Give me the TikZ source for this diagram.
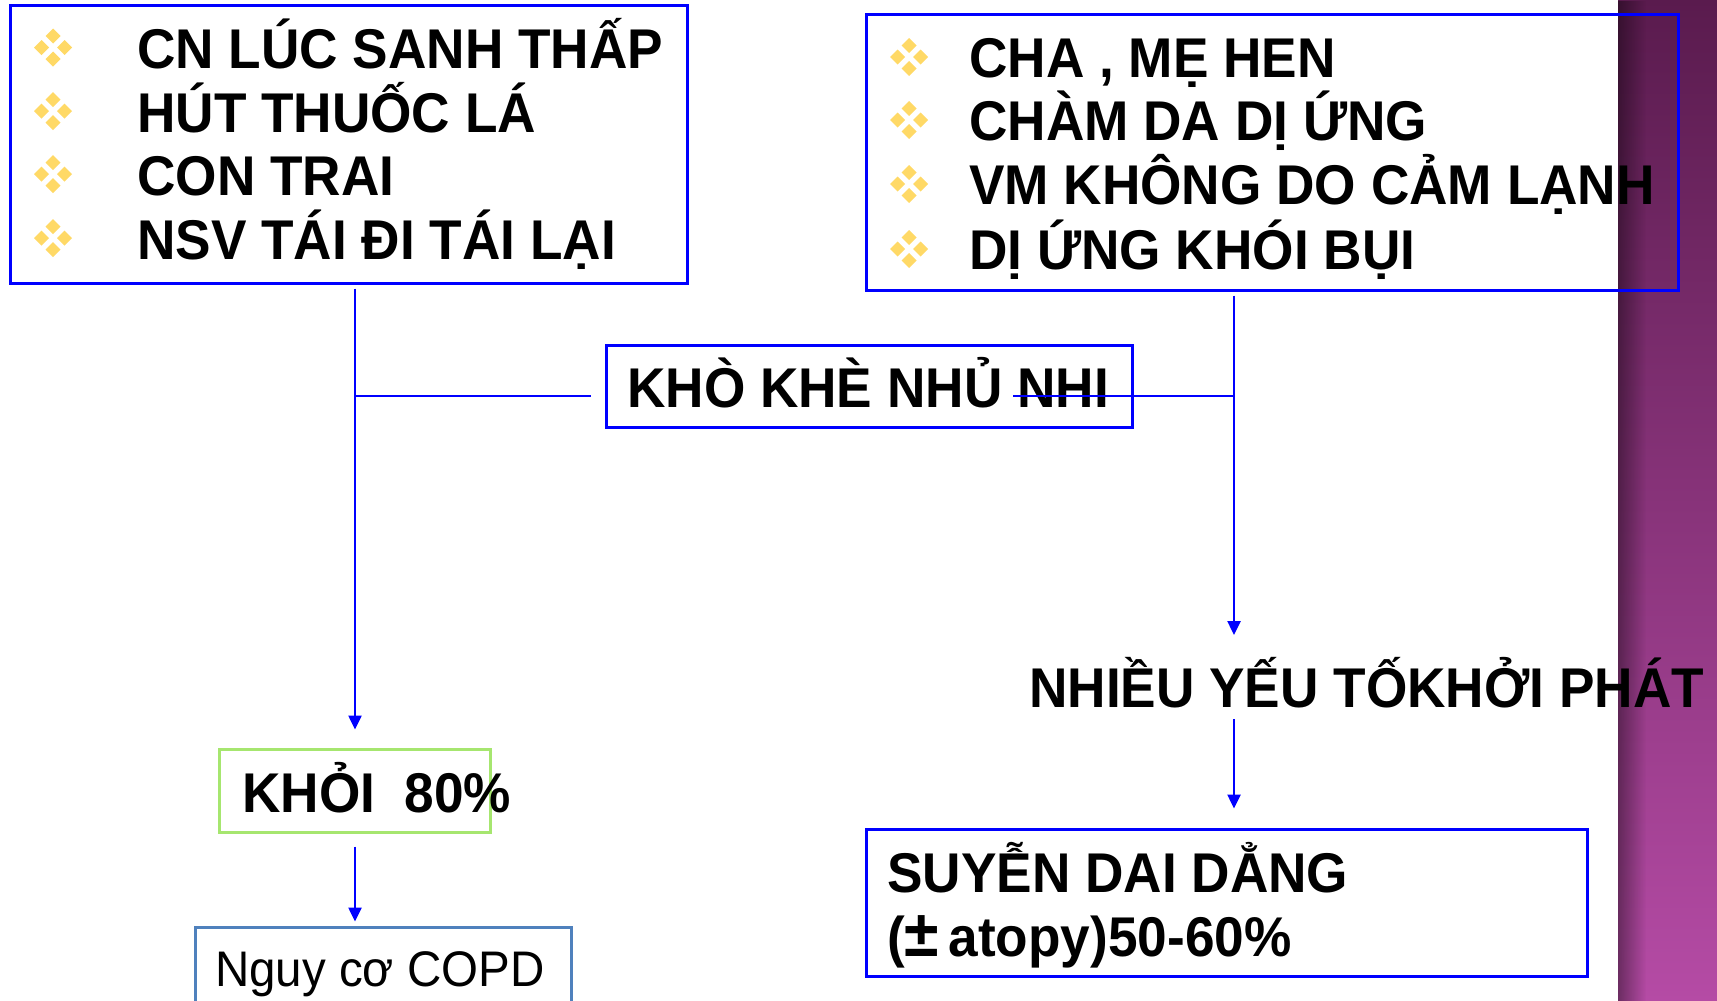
\documentclass[tikz,border=0pt]{standalone}
\usepackage{fontspec}
\setmainfont{Liberation Sans}
\newfontfamily\hfont[FakeStretch=0.95]{Liberation Sans}
\usetikzlibrary{arrows.meta,fadings}
\definecolor{lineblue}{HTML}{0000FF}
\definecolor{gemyellow}{HTML}{FFD966}
\definecolor{khoigreen}{HTML}{A6E66F}
\definecolor{copdblue}{HTML}{4F81BD}
\definecolor{bandtop}{HTML}{5A1B4E}
\definecolor{bandbot}{HTML}{B54BA5}
\tikzfading[name=fadeR, left color=transparent!0, right color=transparent!100]
\tikzset{
  bluebox/.style={draw=lineblue, line width=3pt, inner sep=0pt},
  big/.style={font=\hfont\bfseries\fontsize{56}{60}\selectfont, inner sep=0pt, anchor=base west},
  small/.style={font=\hfont\fontsize{50}{54}\selectfont, inner sep=0pt, anchor=base west},
  conn/.style={draw=lineblue, line width=2.5pt},
  arr/.style={conn, -{Triangle[length=14pt,width=13pt]}},
  gem/.pic={
    \foreach \dx/\dy in {0/-11.5,-11.5/0,11.5/0,0/11.5}
      \fill[gemyellow] (\dx,\dy) +(0,-7.5) -- +(7.5,0) -- +(0,7.5) -- +(-7.5,0) -- cycle;
  }
}
\begin{document}
\begin{tikzpicture}[x=1pt,y=-1pt]
\useasboundingbox (0,0) rectangle (1717,1001);
% background band
\fill[top color=bandtop, bottom color=bandbot] (1618,0) rectangle (1717,1001);
\fill[black, opacity=0.4, path fading=fadeR] (1618,0) rectangle (1646,1001);

% left list box
\node[bluebox, minimum width=677pt, minimum height=278pt] (lbox) at (348.5,144) {};
\pic at (53,47.5) {gem};
\pic at (53,111) {gem};
\pic at (53,174) {gem};
\pic at (53,238) {gem};
\node[big] (l1) at (137,68) {CN LÚC SANH THẤP};
\node[big] (l2) at (137,132) {HÚT THUỐC LÁ};
\node[big] (l3) at (137,195) {CON TRAI};
\node[big] (l4) at (137,259) {NSV TÁI ĐI TÁI LẠI};

% right list box
\node[bluebox, minimum width=812pt, minimum height=276pt] (rbox) at (1272,152) {};
\pic at (909,57) {gem};
\pic at (909,120) {gem};
\pic at (909,184) {gem};
\pic at (909,249) {gem};
\node[big] (r1) at (969,77) {CHA , MẸ HEN};
\node[big] (r2) at (969,140) {CHÀM DA DỊ ỨNG};
\node[big] (r3) at (969,204) {VM KHÔNG DO CẢM LẠNH};
\node[big] (r4) at (969,269) {DỊ ỨNG KHÓI BỤI};

% middle box
\node[bluebox, minimum width=526pt, minimum height=82pt] (kbox) at (869,386) {};
\node[big] (ktext) at (627,407) {KHÒ KHÈ NHỦ NHI};

% right path
\node[big] (nh) at (1029,707) {NHIỀU YẾU TỐKHỞI PHÁT};
\node[bluebox, minimum width=721pt, minimum height=147pt] (sbox) at (1226.5,902.5) {};
\node[big] (s1) at (887,892) {SUYỄN DAI DẲNG};
\node[big] (s2) at (887,956) {({\fontsize{66}{60}\selectfont ±}\,atopy)50-60\%};

% left path
\node[draw=khoigreen, line width=3pt, inner sep=0pt, minimum width=271pt, minimum height=83pt] (khoi) at (355,790.5) {};
\node[big] (ktxt) at (242,812) {KHỎI\ \ 80\%};
\node[draw=copdblue, line width=3pt, inner sep=0pt, minimum width=376pt, minimum height=96pt] (copd) at (383,975) {};
\node[small] (ctxt) at (215,986) {Nguy cơ COPD};

% connectors
\coordinate (j1) at (355,396);
\coordinate (j2) at (1234,396);
\coordinate (kx) at (1013,396);
\coordinate (a1) at (1234,635);
\draw[arr, shorten <=4pt, shorten >=18pt] (lbox.south -| j1) -- (khoi.north -| j1);
\draw[conn, shorten >=14pt] (j1) -- (kbox.west |- j1);
\draw[conn] (kx) -- (j2);
\draw[arr, shorten <=4pt] (rbox.south -| j2) -- (a1);
\draw[arr, shorten <=12pt, shorten >=19pt] (j2 |- nh.base) -- (j2 |- sbox.north);
\draw[arr, shorten <=13pt, shorten >=4pt] (khoi.south) -- (khoi.south |- copd.north);
\end{tikzpicture}
\end{document}
